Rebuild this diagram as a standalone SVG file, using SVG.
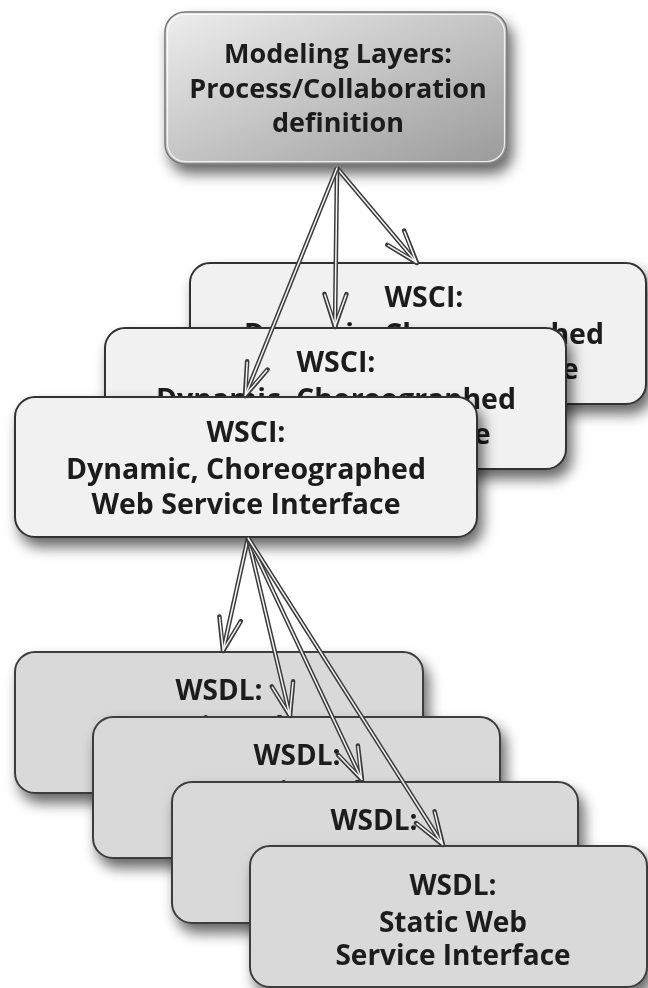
<svg xmlns="http://www.w3.org/2000/svg" width="648" height="988" viewBox="0 0 648 988">
<defs>
  <linearGradient id="topGrad" x1="0" y1="0" x2="1" y2="1">
    <stop offset="0" stop-color="#eeeeee"/>
    <stop offset="1" stop-color="#9a9a9a"/>
  </linearGradient>
  <filter id="shadow" x="-20%" y="-20%" width="150%" height="170%">
    <feDropShadow dx="5" dy="9" stdDeviation="7" flood-color="#000" flood-opacity="0.6"/>
  </filter>
  <marker id="headOuter" markerUnits="userSpaceOnUse" orient="auto" viewBox="-45 -20 55 40" refX="0" refY="0" markerWidth="55" markerHeight="40">
    <path d="M-33,-11 L0,0 L-33,11" fill="none" stroke="#3a3a3a" stroke-width="4.5" stroke-linejoin="round" stroke-linecap="round"/>
  </marker>
  <marker id="headInner" markerUnits="userSpaceOnUse" orient="auto" viewBox="-45 -20 55 40" refX="0" refY="0" markerWidth="55" markerHeight="40">
    <path d="M-32,-10.6 L-1,0 L-32,10.6" fill="none" stroke="#f6f6f6" stroke-width="1.5" stroke-linejoin="round" stroke-linecap="round"/>
  </marker>
</defs>
<style>
  .t{font-family:"Open Sans",Lato,"Liberation Sans",sans-serif;font-weight:bold;fill:#1a1a1a;text-anchor:middle}
  .top-box{fill:url(#topGrad);stroke:#777;stroke-width:1.5}
  .top-hl{fill:none;stroke:#ffffff;stroke-opacity:0.8;stroke-width:1.2}
  .wsci{fill:#f1f1f1;stroke:#333;stroke-width:2}
  .wsdl{fill:#d9d9d9;stroke:#3d3d3d;stroke-width:2}
  .ts-top{font-size:27px}
  .ts-wsci{font-size:28.5px}
  .ts-wsdl{font-size:28px}
  .outer{fill:none;stroke:#3a3a3a;stroke-width:4.5;marker-end:url(#headOuter)}
  .inner{fill:none;stroke:#f6f6f6;stroke-width:1.5;marker-end:url(#headInner)}
</style>

<g id="modeling-layers" filter="url(#shadow)">
  <rect class="top-box" x="165" y="12" width="342" height="152" rx="20"/>
  <rect class="top-hl" x="167.5" y="14.5" width="337" height="147" rx="18"/>
  <text class="t ts-top" x="338" y="63">Modeling Layers:</text>
  <text class="t ts-top" x="338" y="98">Process/Collaboration</text>
  <text class="t ts-top" x="338" y="132">definition</text>
</g>

<g id="wsci-3" filter="url(#shadow)">
  <rect class="wsci" x="190" y="263" width="456" height="141" rx="20"/>
  <text class="t ts-wsci" x="424" y="307">WSCI:</text>
  <text class="t ts-wsci" x="424" y="344">Dynamic, Choreographed</text>
  <text class="t ts-wsci" x="424" y="379">Web Service Interface</text>
</g>

<g id="wsci-2" filter="url(#shadow)">
  <rect class="wsci" x="105" y="328" width="461" height="141" rx="20"/>
  <text class="t ts-wsci" x="336" y="372">WSCI:</text>
  <text class="t ts-wsci" x="336" y="409">Dynamic, Choreographed</text>
  <text class="t ts-wsci" x="336" y="444">Web Service Interface</text>
</g>

<g id="wsci-1" filter="url(#shadow)">
  <rect class="wsci" x="15" y="397" width="462" height="140" rx="20"/>
  <text class="t ts-wsci" x="246" y="442">WSCI:</text>
  <text class="t ts-wsci" x="246" y="479">Dynamic, Choreographed</text>
  <text class="t ts-wsci" x="246" y="514">Web Service Interface</text>
</g>

<g id="wsdl-1" filter="url(#shadow)">
  <rect class="wsdl" x="15" y="652" width="408" height="141" rx="20"/>
  <text class="t ts-wsdl" x="219" y="700">WSDL:</text>
  <text class="t ts-wsdl" x="219" y="737">Static Web</text>
  <text class="t ts-wsdl" x="219" y="770">Service Interface</text>
</g>

<g id="wsdl-2" filter="url(#shadow)">
  <rect class="wsdl" x="93" y="717" width="407" height="141" rx="20"/>
  <text class="t ts-wsdl" x="297" y="765">WSDL:</text>
  <text class="t ts-wsdl" x="297" y="802">Static Web</text>
  <text class="t ts-wsdl" x="297" y="835">Service Interface</text>
</g>

<g id="wsdl-3" filter="url(#shadow)">
  <rect class="wsdl" x="172" y="782" width="406" height="141" rx="20"/>
  <text class="t ts-wsdl" x="374" y="830">WSDL:</text>
  <text class="t ts-wsdl" x="374" y="867">Static Web</text>
  <text class="t ts-wsdl" x="374" y="900">Service Interface</text>
</g>

<g id="wsdl-4" filter="url(#shadow)">
  <rect class="wsdl" x="250" y="846" width="397" height="141" rx="20"/>
  <text class="t ts-wsdl" x="453" y="895">WSDL:</text>
  <text class="t ts-wsdl" x="453" y="932">Static Web</text>
  <text class="t ts-wsdl" x="453" y="965">Service Interface</text>
</g>

<g id="connectors">
  <path class="outer" d="M337,168 L417,263"/>
  <path class="inner" d="M337,168 L417,263"/>
  <path class="outer" d="M337,168 L335,327"/>
  <path class="inner" d="M337,168 L335,327"/>
  <path class="outer" d="M337,168 L245,396"/>
  <path class="inner" d="M337,168 L245,396"/>
  <path class="outer" d="M248,538 L223,651"/>
  <path class="inner" d="M248,538 L223,651"/>
  <path class="outer" d="M248,538 L290,716"/>
  <path class="inner" d="M248,538 L290,716"/>
  <path class="outer" d="M248,538 L362,780"/>
  <path class="inner" d="M248,538 L362,780"/>
  <path class="outer" d="M248,538 L443,845"/>
  <path class="inner" d="M248,538 L443,845"/>
</g>
</svg>
